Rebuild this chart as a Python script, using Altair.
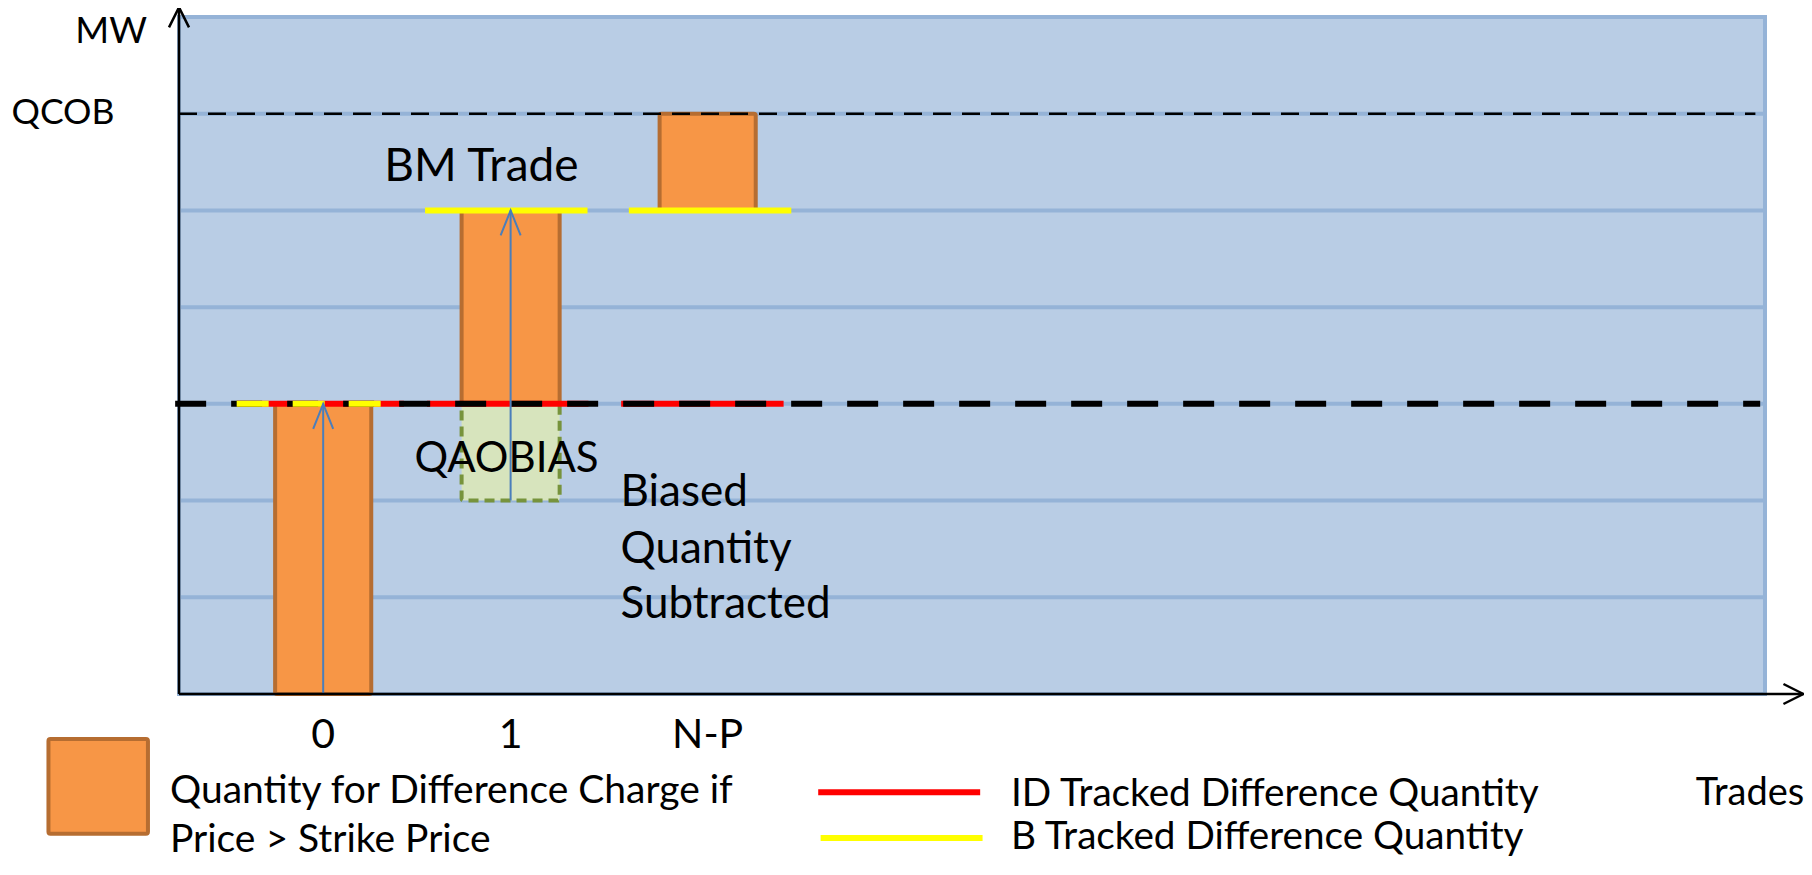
import altair as alt
import pandas as pd

FONT = "Lato, Open Sans, Liberation Sans, sans-serif"

# ---- scale domains (x: 1 unit ~ one bar width, y: 1 unit = one gridline step) ----
X_DOMAIN = [0, 16.5]
Y_DOMAIN = [-3, 4]
grid_values = [-2, -1, 0, 1, 2, 3]
QCOB = 3
ZERO = 0

# ---- trades (orange bars) ----
trade_labels = ["0", "1", "N-P"]
trade_center = [1.5, 3.45, 5.5]
bar_left = [1.0, 2.94, 5.0]
bar_right = [2.0, 3.96, 6.0]
bar_low = [-3, 0, 2]
bar_high = [0, 2, 3]

# ---- biased quantity subtracted (green dashed box) ----
bias_left = [2.94]
bias_right = [3.96]
bias_low = [-1]
bias_high = [0]

# ---- ID tracked difference quantity (red) ----
id_x0 = [0.60, 2.58, 4.60]
id_x1 = [2.34, 4.26, 6.29]
id_y = [0, 0, 0]

# ---- B tracked difference quantity (yellow) ----
b_dash_x0 = [0.60]
b_dash_x1 = [2.34]
b_dash_y = [0]
b_solid_x0 = [2.56, 4.68]
b_solid_x1 = [4.25, 6.37]
b_solid_y = [2, 2]

# ---- blue arrows ----
arrow_x = [1.5, 3.45]
arrow_from = [-3, -1]
arrow_to = [0, 2]

# ---- axes ----
y_axis_top = 4.1
x_axis_end = 16.9

# ---- annotations ----
ann_text = ["BM Trade", "QAOBIAS"]
ann_x = [3.147, 3.407]
ann_y = [2.446, -0.566]

side_text = ["Biased", "Quantity", "Subtracted"]
side_x = [4.593, 4.593, 4.593]
side_y = [-0.924, -1.51, -2.08]

axis_text = ["QCOB"]
axis_x = [-1.743]
axis_y = [3.01]

unit_text = ["MW"]
unit_x = [-0.333]
unit_y = [3.85]

tick_y = -3.43

legend_text = ["Quantity for Difference Charge if", "Price > Strike Price",
               "ID Tracked Difference Quantity", "B Tracked Difference Quantity", "Trades"]
legend_x = [-0.094, -0.094, 8.656, 8.656, 15.78]
legend_y = [-4.004, -4.505, -4.03, -4.48, -4.03]
legend_size = [39, 39, 38.7, 38.7, 38]

# ---- legend swatches ----
leg_box_x0 = [-1.358]
leg_box_x1 = [-0.323]
leg_box_y0 = [-3.466]
leg_box_y1 = [-4.446]
leg_line_x0 = [6.65, 6.675]
leg_line_x1 = [8.335, 8.36]
leg_line_y = [-4.016, -4.49]
leg_line_color = ["#FF0000", "#FFFF00"]

FS_BM = 46
FS_QAO = 42
FS_SIDE = 44
FS_TICK = 41
FS_MW = 36.5
FS_QCOB = 35.5

# ---------------------------------------------------------------
xs = alt.Scale(domain=X_DOMAIN, nice=False, zero=False)
ys = alt.Scale(domain=Y_DOMAIN, nice=False, zero=False)


def X(f):
    return alt.X(f, type="quantitative", scale=xs, axis=None)


def Y(f):
    return alt.Y(f, type="quantitative", scale=ys, axis=None)


def text_layer(texts, xv, yv, size, align):
    df = pd.DataFrame({"t": texts, "x": xv, "y": yv})
    return alt.Chart(df).mark_text(font=FONT, fontSize=size, color="#000000", align=align,
                                   baseline="middle").encode(
        x=X("x"), y=Y("y"), text="t:N")


grid_df = pd.DataFrame({"y": grid_values, "x0": [X_DOMAIN[0]] * len(grid_values),
                        "x1": [X_DOMAIN[1]] * len(grid_values)})
grid = alt.Chart(grid_df).mark_rule(color="#95B3D7", strokeWidth=4).encode(
    x=X("x0"), x2="x1", y=Y("y"))

bars_df = pd.DataFrame({"trade": trade_labels, "x0": bar_left, "x1": bar_right,
                        "y0": bar_low, "y1": bar_high})
bars = alt.Chart(bars_df).mark_rect(fill="#F79646", stroke="#B66D31", strokeWidth=4,
                                    cornerRadius=2).encode(
    x=X("x0"), x2="x1", y=Y("y0"), y2="y1")

bias_df = pd.DataFrame({"x0": bias_left, "x1": bias_right, "y0": bias_low, "y1": bias_high})
bias = alt.Chart(bias_df).mark_rect(fill="#D7E4BD", stroke="#77933C", strokeWidth=4,
                                    strokeDash=[10, 6], cornerRadius=2).encode(
    x=X("x0"), x2="x1", y=Y("y0"), y2="y1")

id_df = pd.DataFrame({"x0": id_x0, "x1": id_x1, "y": id_y})
id_lines = alt.Chart(id_df).mark_rule(color="#FF0000", strokeWidth=6).encode(
    x=X("x0"), x2="x1", y=Y("y"))

zero_df = pd.DataFrame({"x0": [-0.04], "x1": [16.45], "y": [ZERO]})
zero_line = alt.Chart(zero_df).mark_rule(color="#000000", strokeWidth=6,
                                         strokeDash=[31, 25]).encode(
    x=X("x0"), x2="x1", y=Y("y"))

bdash_df = pd.DataFrame({"x0": b_dash_x0, "x1": b_dash_x1, "y": b_dash_y})
b_dash = alt.Chart(bdash_df).mark_rule(color="#FFFF00", strokeWidth=6,
                                       strokeDash=[32, 24]).encode(
    x=X("x0"), x2="x1", y=Y("y"))

bsolid_df = pd.DataFrame({"x0": b_solid_x0, "x1": b_solid_x1, "y": b_solid_y})
b_solid = alt.Chart(bsolid_df).mark_rule(color="#FFFF00", strokeWidth=6).encode(
    x=X("x0"), x2="x1", y=Y("y"))

qcob_df = pd.DataFrame({"x0": [0.0], "x1": [16.4], "y": [QCOB]})
qcob_line = alt.Chart(qcob_df).mark_rule(color="#000000", strokeWidth=2.5,
                                         strokeDash=[18, 11]).encode(
    x=X("x0"), x2="x1", y=Y("y"))

arrow_df = pd.DataFrame({"x": arrow_x, "y0": arrow_from, "y1": arrow_to})
arrow_shaft = alt.Chart(arrow_df).mark_rule(color="#4A7EBB", strokeWidth=2).encode(
    x=X("x"), y=Y("y0"), y2="y1")
arrow_head = alt.Chart(arrow_df).mark_point(shape="M-2,5L0,0L2,5", size=100, filled=False,
                                            stroke="#4A7EBB", strokeWidth=2, opacity=1).encode(
    x=X("x"), y=Y("y1"))

yaxis_df = pd.DataFrame({"x": [X_DOMAIN[0]], "y0": [Y_DOMAIN[0]], "y1": [y_axis_top]})
yaxis_line = alt.Chart(yaxis_df).mark_rule(color="#000000", strokeWidth=2.5).encode(
    x=X("x"), y=Y("y0"), y2="y1")
yaxis_head = alt.Chart(yaxis_df).mark_point(shape="M-2,4L0,0L2,4", size=100, filled=False,
                                            stroke="#000000", strokeWidth=2.5, opacity=1).encode(
    x=X("x"), y=Y("y1"))

xaxis_df = pd.DataFrame({"x0": [X_DOMAIN[0]], "x1": [x_axis_end], "y": [Y_DOMAIN[0]]})
xaxis_line = alt.Chart(xaxis_df).mark_rule(color="#000000", strokeWidth=2.5).encode(
    x=X("x0"), x2="x1", y=Y("y"))
xaxis_head = alt.Chart(xaxis_df).mark_point(shape="M-4,-2L0,0L-4,2", size=100, filled=False,
                                            stroke="#000000", strokeWidth=2.5, opacity=1).encode(
    x=X("x1"), y=Y("y"))

ticks = text_layer(trade_labels, trade_center, [tick_y] * len(trade_labels), FS_TICK, "center")
bm = text_layer(ann_text[:1], ann_x[:1], ann_y[:1], FS_BM, "center")
qao = text_layer(ann_text[1:], ann_x[1:], ann_y[1:], FS_QAO, "center")
side = text_layer(side_text, side_x, side_y, FS_SIDE, "left")
axis_lbl = text_layer(axis_text, axis_x, axis_y, FS_QCOB, "left")
unit_lbl = text_layer(unit_text, unit_x, unit_y, FS_MW, "right")

leg_df = pd.DataFrame({"t": legend_text, "x": legend_x, "y": legend_y, "s": legend_size})
leg_txt = alt.Chart(leg_df).mark_text(font=FONT, color="#000000", align="left",
                                      baseline="middle").encode(
    x=X("x"), y=Y("y"), text="t:N", size=alt.Size("s:Q", scale=None, legend=None))

legbox_df = pd.DataFrame({"x0": leg_box_x0, "x1": leg_box_x1, "y0": leg_box_y0, "y1": leg_box_y1})
legbox = alt.Chart(legbox_df).mark_rect(fill="#F79646", stroke="#B66D31", strokeWidth=4,
                                        cornerRadius=2).encode(
    x=X("x0"), x2="x1", y=Y("y0"), y2="y1")

legline_df = pd.DataFrame({"x0": leg_line_x0, "x1": leg_line_x1, "y": leg_line_y,
                           "c": leg_line_color})
leglines = alt.Chart(legline_df).mark_rule(strokeWidth=6).encode(
    x=X("x0"), x2="x1", y=Y("y"), color=alt.Color("c:N", scale=None, legend=None))

chart = alt.layer(
    grid, bars, bias, id_lines, zero_line, b_dash, b_solid, qcob_line,
    arrow_shaft, arrow_head, yaxis_line, yaxis_head, xaxis_line, xaxis_head,
    ticks, bm, qao, side, axis_lbl, unit_lbl, leg_txt, legbox, leglines,
).properties(
    width=1586, height=677,
    autosize=alt.AutoSizeParams(type="none"),
    padding={"left": 171, "top": 9, "right": 39, "bottom": 167},
).configure_view(
    fill="#B9CDE5", stroke="#95B3D7", strokeWidth=4,
)

chart.save("out.html", embed_options={"renderer": "svg", "actions": False})
